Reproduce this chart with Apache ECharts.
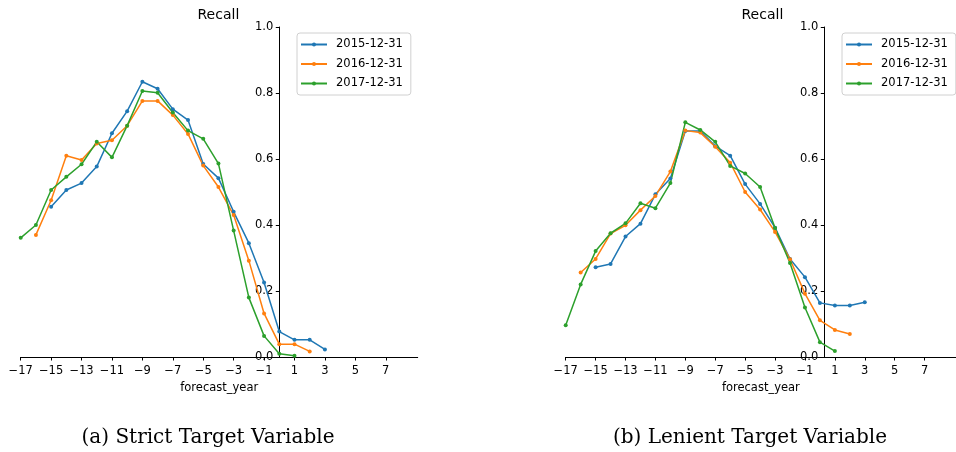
<!DOCTYPE html>
<html><head><meta charset="utf-8">
<script src="https://cdn.jsdelivr.net/npm/echarts@6/dist/echarts.min.js"></script>
<style>html,body{margin:0;padding:0;background:#fff}#c{width:956px;height:452px}</style>
</head><body><div id="c"></div>
<script>
const seriesNames = ['2015-12-31', '2016-12-31', '2017-12-31'];
const years2015 = [-15,-14,-13,-12,-11,-10,-9,-8,-7,-6,-5,-4,-3,-2,-1,0,1,2,3];
const years2016 = [-16,-15,-14,-13,-12,-11,-10,-9,-8,-7,-6,-5,-4,-3,-2,-1,0,1,2];
const years2017 = [-17,-16,-15,-14,-13,-12,-11,-10,-9,-8,-7,-6,-5,-4,-3,-2,-1,0,1];
// (a) Strict target variable
const strict2015 = [0.455,0.506,0.527,0.577,0.678,0.745,0.834,0.813,0.751,0.718,0.585,0.542,0.44,0.345,0.226,0.077,0.052,0.052,0.023];
const strict2016 = [0.37,0.475,0.61,0.597,0.647,0.657,0.701,0.776,0.776,0.733,0.676,0.58,0.515,0.43,0.292,0.132,0.039,0.039,0.017];
const strict2017 = [0.361,0.4,0.506,0.546,0.584,0.652,0.605,0.701,0.806,0.801,0.741,0.686,0.661,0.586,0.383,0.18,0.064,0.01,0.004];
// (b) Lenient target variable
const lenient2015 = [0.272,0.282,0.365,0.404,0.493,0.541,0.685,0.685,0.639,0.61,0.524,0.464,0.392,0.297,0.242,0.164,0.156,0.156,0.166];
const lenient2016 = [0.256,0.297,0.374,0.399,0.445,0.488,0.562,0.686,0.68,0.637,0.589,0.5,0.447,0.379,0.296,0.192,0.111,0.082,0.07];
const lenient2017 = [0.096,0.22,0.321,0.375,0.405,0.466,0.451,0.527,0.711,0.688,0.652,0.579,0.556,0.515,0.391,0.285,0.15,0.045,0.018];
const xTicks = [-17,-15,-13,-11,-9,-7,-5,-3,-1,1,3,5,7];
const yTicks = [0,0.2,0.4,0.6,0.8,1.0];
const panelTitle = 'Recall';
const xName = 'forecast_year';
const captions = ['(a) Strict Target Variable', '(b) Lenient Target Variable'];

const colors = ['#1f77b4', '#ff7f0e', '#2ca02c'];
const yearsList = [years2015, years2016, years2017];
const panels = [[strict2015, strict2016, strict2017], [lenient2015, lenient2016, lenient2017]];
const gridLefts = [20.7, 565.7];
const gridW = 397, xMin = -17, xMax = 9.1;
const zeroOffset = (0 - xMin) / (xMax - xMin) * gridW;
const font = 'DejaVu Sans';

const chart = echarts.init(document.getElementById('c'), null, {renderer: 'canvas'});

const grids = gridLefts.map(l => ({left: l, top: 27, width: gridW, height: 330, containLabel: false}));
const xAxes = gridLefts.map((l, i) => ({
  type: 'value', gridIndex: i, min: xMin, max: xMax, interval: 2,
  name: xName, nameLocation: 'middle', nameGap: 25,
  nameTextStyle: {fontFamily: font, fontSize: 11.5, color: '#000'},
  axisLine: {onZero: false, lineStyle: {color: '#000', width: 1}},
  axisTick: {show: true, length: 3.5, lineStyle: {color: '#000'}, customValues: xTicks},
  axisLabel: {margin: 8, fontFamily: font, fontSize: 11.5, color: '#000', customValues: xTicks,
    formatter: v => String(v).replace('-', '\u2212')},
  splitLine: {show: false}
}));
const yAxes = gridLefts.map((l, i) => ({
  type: 'value', gridIndex: i, min: 0, max: 1, interval: 0.2, position: 'left',
  offset: -zeroOffset,
  axisLine: {show: true, onZero: false, lineStyle: {color: '#000', width: 1}},
  axisTick: {show: true, length: 3.5, lineStyle: {color: '#000'}},
  axisLabel: {margin: 6, fontFamily: font, fontSize: 11.5, color: '#000', formatter: v => v.toFixed(1)},
  splitLine: {show: false}
}));
const series = [];
panels.forEach((vals, p) => {
  vals.forEach((arr, k) => {
    series.push({
      type: 'line', name: seriesNames[k], xAxisIndex: p, yAxisIndex: p,
      data: yearsList[k].map((x, j) => [x, arr[j]]),
      symbol: 'circle', symbolSize: 4, showSymbol: true,
      lineStyle: {width: 1.5, color: colors[k]}, itemStyle: {color: colors[k]},
      emphasis: {disabled: true}, animation: false, clip: false
    });
  });
});
const legends = [297, 842].map(l => ({
  left: l, top: 33, orient: 'vertical', itemWidth: 26, itemHeight: 5, itemGap: 6.5,
  padding: [5, 8, 5, 3], borderColor: '#d0d0d0', borderWidth: 1, borderRadius: 3,
  backgroundColor: 'rgba(255,255,255,0.8)',
  textStyle: {fontFamily: font, fontSize: 11.5, color: '#000', padding: [0, 0, 0, 4], lineHeight: 13},
  data: seriesNames, selectedMode: false
}));
const titles = [197.5, 741.5].map(l => ({
  text: panelTitle, left: l, top: 8, padding: 0,
  textStyle: {fontFamily: font, fontSize: 14, fontWeight: 'normal', color: '#000'}
})).concat(captions.map((c, i) => ({
  text: c, left: [208, 750][i], top: 428, textAlign: 'center', padding: 0,
  textStyle: {fontFamily: 'DejaVu Serif', fontSize: 20, fontWeight: 'normal', color: '#000'}
})));

chart.setOption({
  animation: false, color: colors,
  title: titles, grid: grids, xAxis: xAxes, yAxis: yAxes, legend: legends, series: series
});
</script></body></html>
